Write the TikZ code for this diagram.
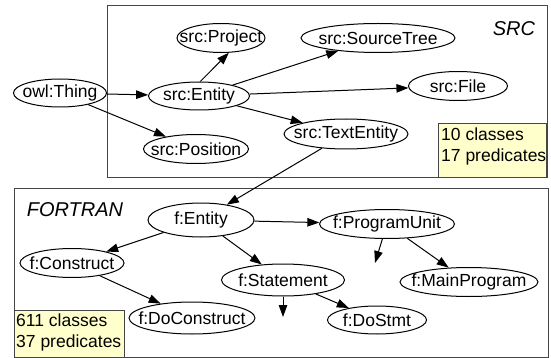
\documentclass[tikz,border=0pt]{standalone}
\usepackage{fontspec}
\setmainfont{Liberation Sans}
\usetikzlibrary{shapes.geometric,arrows.meta}
\definecolor{noteyellow}{RGB}{255,255,204}
\definecolor{framegray}{RGB}{70,70,70}
\newcommand{\zt}[1]{\makebox[0pt]{#1}}
\begin{document}
\begin{tikzpicture}[x=1pt,y=-1pt,
  cls/.style={ellipse,draw=black,line width=1pt,inner sep=0pt,
    font=\fontsize{17.5}{20}\selectfont},
  sz/.style 2 args={minimum width=#1pt,minimum height=#2pt},
  arr/.style={-{Triangle[length=12pt,width=8.5pt]},line width=1pt},
  group/.style={draw=framegray,line width=1pt},
  note/.style={draw=framegray,line width=1pt,fill=noteyellow},
  notetext/.style={anchor=north west,align=left,inner sep=0pt,
    font=\fontsize{17.5}{21}\selectfont},
  title/.style={font=\fontsize{20}{24}\selectfont\itshape,inner sep=0pt}
]
\useasboundingbox (0,0) rectangle (551,358);

% group frames
\draw[group] (107,6) rectangle (547,178);
\draw[group] (14,189) rectangle (548,357);

% notes
\draw[note] (438,124) rectangle (546,178);
\node[notetext] (srcnote) at (441,128) {10 classes\\17 predicates};
\draw[note] (14,310) rectangle (124,357);
\node[notetext] (fnote) at (16,314) {611 classes\\37 predicates};

% titles
\node[title] (srctitle) at (514,29) {SRC};
\node[title] (ftitle) at (75,210) {FORTRAN};

% SRC nodes
\node[cls,sz={93}{28}] (thing) at (60,93) {\zt{owl:Thing}};
\node[cls,sz={101}{28}] (sent) at (199,96) {\zt{src:Entity}};
\node[cls,sz={88}{29}] (sproj) at (221,38) {\zt{src:Project}};
\node[cls,sz={105}{29}] (spos) at (196,149) {\zt{src:Position}};
\node[cls,sz={154}{29}] (stree) at (378,38) {\zt{src:SourceTree}};
\node[cls,sz={99}{29}] (sfile) at (458,86) {\zt{src:File}};
\node[cls,sz={124}{30}] (stext) at (346,134) {\zt{src:TextEntity}};

% FORTRAN nodes
\node[cls,sz={106}{34}] (fent) at (201,220) {\zt{f:Entity}};
\node[cls,sz={104}{29}] (fcons) at (72,263) {\zt{f:Construct}};
\node[cls,sz={123}{32}] (fstat) at (283,280) {\zt{f:Statement}};
\node[cls,sz={135}{29}] (fprog) at (387,224) {\zt{f:ProgramUnit}};
\node[cls,sz={138}{29}] (fmain) at (469,282) {\zt{f:MainProgram}};
\node[cls,sz={126}{32}] (fdocons) at (192,318) {\zt{f:DoConstruct}};
\node[cls,sz={99}{28}] (fdostmt) at (377,320) {\zt{f:DoStmt}};

\coordinate (d1) at (375,263);
\coordinate (d2) at (283,317);

% edges
\draw[arr] (thing) -- (sent);
\draw[arr] (thing) -- (spos);
\draw[arr] (sent.85) -- (sproj.-62);
\draw[arr] (sent) -- (stree);
\draw[arr] (sent) -- (sfile);
\draw[arr] (sent) -- (stext);
\draw[arr] (stext) -- (fent);
\draw[arr] (fent) -- (fcons);
\draw[arr] (fent) -- (fstat);
\draw[arr] (fent) -- (fprog);
\draw[arr] (fcons) -- (fdocons);
\draw[arr] (fstat) -- (fdostmt);
\draw[arr] (fprog) -- (fmain);
\draw[arr] (fprog) -- (d1);
\draw[arr] (fstat) -- (d2);
\end{tikzpicture}
\end{document}
